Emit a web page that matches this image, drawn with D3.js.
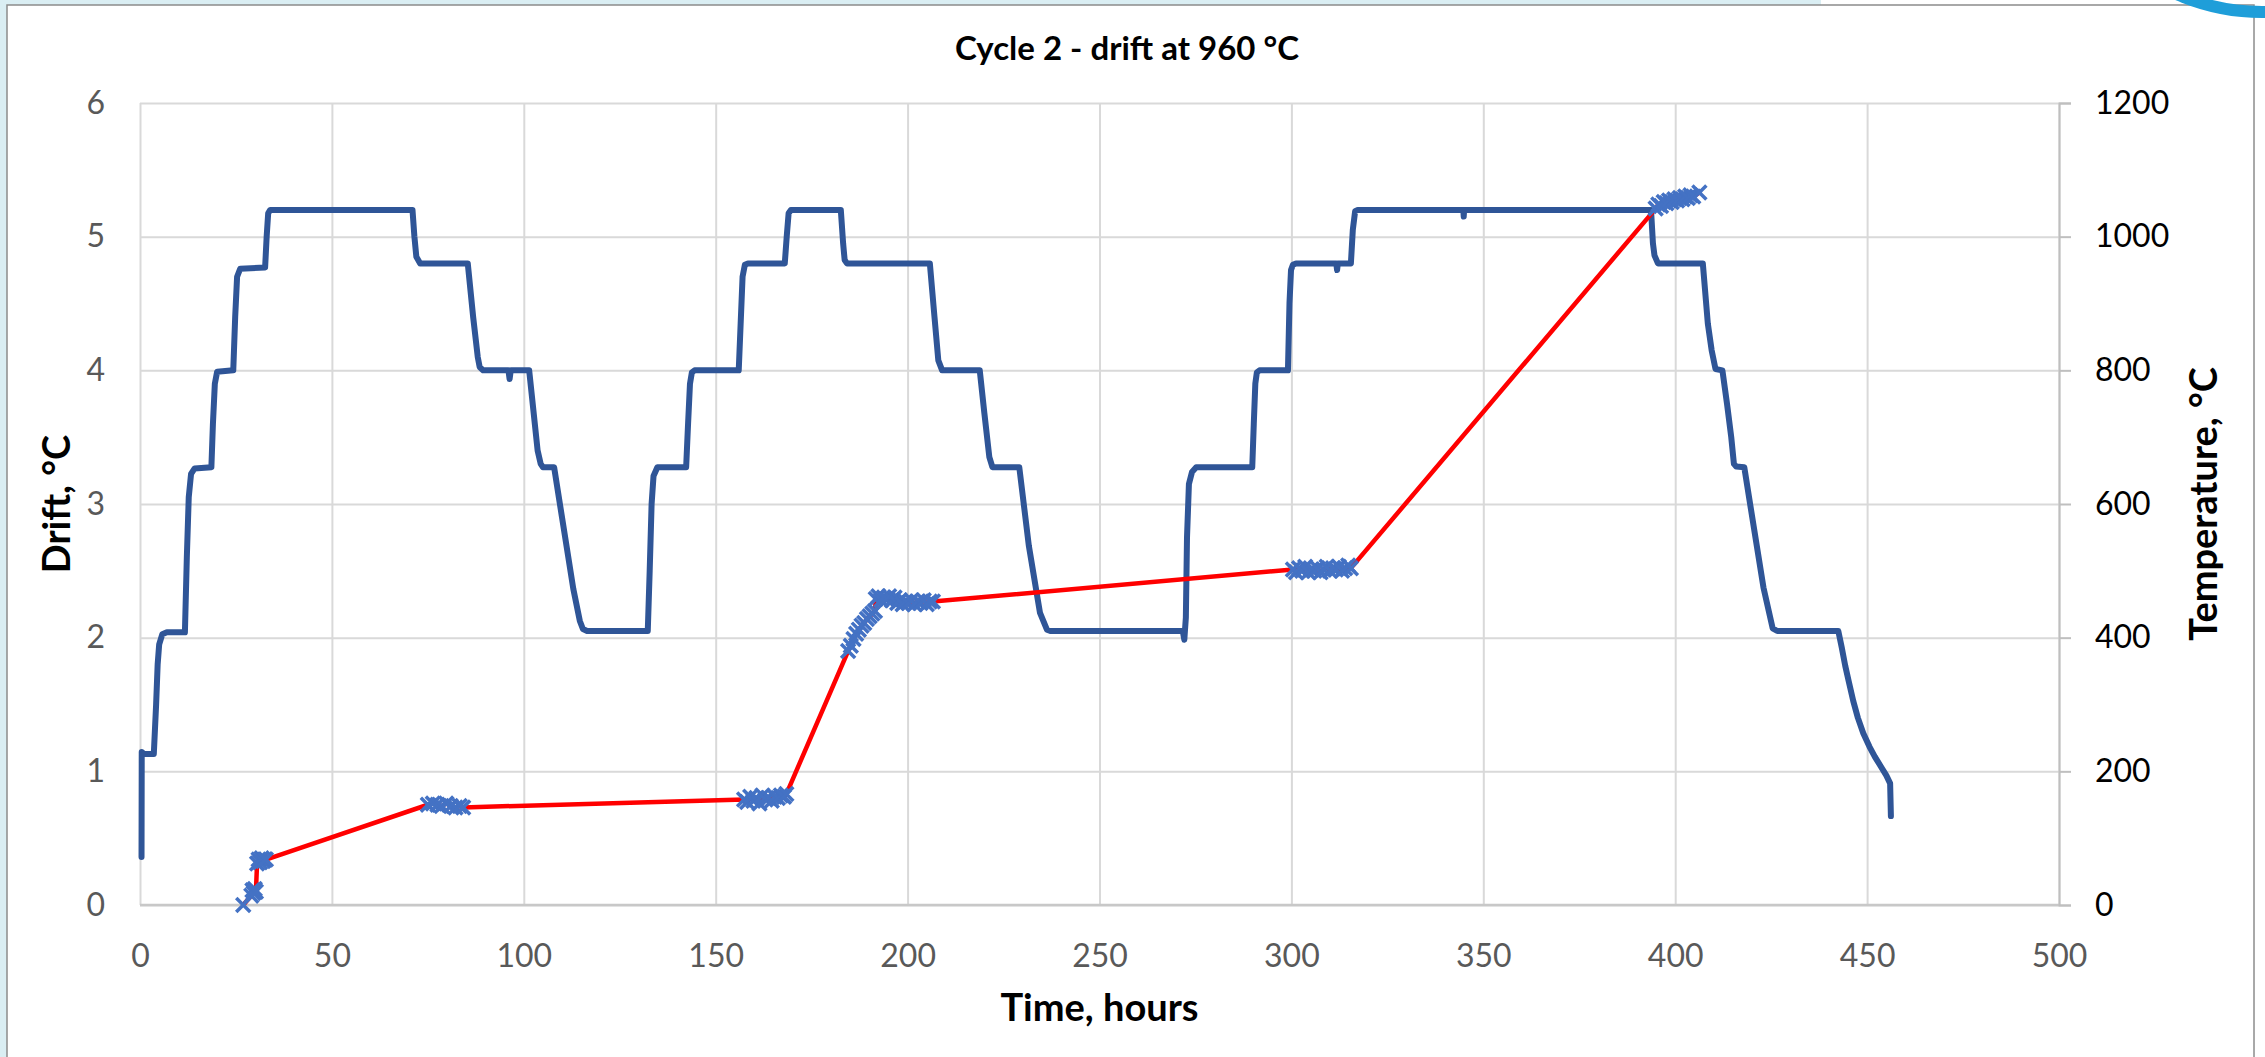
<!DOCTYPE html>
<html>
<head>
<meta charset="utf-8">
<script src="https://cdn.jsdelivr.net/npm/d3@7"></script>
<style>
  body { margin: 0; background: #fff; }
  svg { display: block; font-family: Lato, "Open Sans", sans-serif; }
</style>
</head>
<body>
<svg id="svg" width="2265" height="1057"></svg>
<script>
// ---- data ----
var chartTitle = "Cycle 2 - drift at 960 °C";

var xTicks = [0, 50, 100, 150, 200, 250, 300, 350, 400, 450, 500];
var driftTicks = [0, 1, 2, 3, 4, 5, 6];
var tempTicks = [0, 200, 400, 600, 800, 1000, 1200];

// furnace temperature, [hours, °C]
var tempProfile = [
  [0.4, 72], [0.45, 229], [1.0, 226], [3.6, 226], [4.2, 300], [4.6, 360], [5.0, 390], [5.8, 405], [7.0, 408], [11.7, 408],
  [12.2, 520], [12.7, 610], [13.3, 645], [14.2, 653], [18.6, 655],
  [19.0, 720], [19.5, 780], [20.1, 798], [24.3, 800],
  [24.8, 880], [25.3, 940], [26.1, 952], [32.6, 954],
  [33.0, 1000], [33.4, 1035], [33.9, 1040], [71.0, 1040],
  [71.5, 1000], [72.0, 970], [73.0, 960], [85.4, 960],
  [86.8, 880], [88.0, 820], [88.5, 805], [89.4, 800], [96.0, 800], [96.3, 787], [96.6, 800], [101.4, 800],
  [102.5, 740], [103.6, 680], [104.4, 660], [105.0, 655], [107.9, 655],
  [109.9, 582], [112.9, 473], [114.6, 425], [115.4, 413], [116.5, 410], [132.3, 410],
  [132.8, 500], [133.3, 600], [133.8, 642], [134.8, 655], [142.3, 655],
  [142.8, 720], [143.3, 780], [143.8, 797], [144.5, 800], [156.0, 800],
  [156.5, 870], [157.0, 940], [157.6, 958], [158.4, 960], [168.0, 960],
  [168.5, 1000], [169.0, 1035], [169.6, 1040], [182.6, 1040],
  [183.2, 990], [183.6, 965], [184.2, 960], [205.8, 960],
  [207.0, 880], [208.0, 815], [209.0, 800], [218.8, 800],
  [220.0, 736], [221.3, 670], [222.1, 655], [229.1, 655],
  [231.6, 537], [234.5, 437], [236.3, 412], [237.2, 410], [271.7, 410], [272.1, 397], [272.5, 430],
  [272.8, 550], [273.3, 630], [274.1, 648], [275.2, 655], [289.8, 655],
  [290.2, 720], [290.6, 780], [291.0, 797], [291.7, 800], [299.1, 800],
  [299.5, 900], [299.9, 950], [300.4, 958], [301.2, 960], [311.7, 960], [311.9, 950], [312.1, 960], [315.5, 960],
  [316.0, 1010], [316.6, 1038], [317.3, 1040], [344.8, 1040], [344.9, 1030], [345.0, 1040], [393.7, 1040],
  [394.2, 990], [394.6, 972], [395.5, 960], [407.2, 960],
  [408.5, 870], [409.5, 830], [410.5, 802], [412.3, 800],
  [413.5, 750], [414.6, 700], [415.3, 660], [415.9, 656], [418.0, 655],
  [420.6, 561], [423.0, 475], [425.4, 414], [426.6, 410], [442.5, 410],
  [443.4, 385], [444.3, 358], [445.2, 335], [446.4, 305], [447.6, 280], [449.0, 257], [450.6, 237],
  [452.0, 222], [453.5, 208], [455.0, 194], [456.0, 182], [456.2, 133]
];

// thermocouple drift, hours and °C
var driftHours = [
  26.9, 29.0, 29.3, 29.6, 29.9, 30.2,
  30.5, 30.9, 31.3, 31.7, 32.1, 32.5, 32.8,
  75.0, 76.3, 77.5, 78.6, 79.8, 81.0, 82.2, 83.3, 84.2,
  157.4, 158.2, 159.0, 159.8, 160.6, 161.4, 162.2, 163.0, 163.8, 164.6, 165.4, 166.2, 167.0, 167.8, 168.4,
  184.5, 185.2, 185.9, 186.6, 187.3, 188.0, 188.7, 189.4, 190.1, 190.8, 191.5,
  191.7, 192.4, 193.1, 193.8, 194.5, 195.2, 195.9, 196.6, 197.3, 198.0, 198.7, 199.4, 200.2, 201.0, 201.8, 202.6, 203.4, 204.2, 205.0, 205.8, 206.6,
  300.4, 301.2, 302.0, 302.8, 303.6, 304.4, 305.2, 306.0, 306.8, 307.6, 308.4, 309.2, 310.0, 310.8, 311.6, 312.4, 313.2, 314.0, 314.8, 315.5,
  394.9, 395.6, 396.3, 397.0, 397.7, 398.4, 399.1, 399.8, 400.5, 401.2, 401.9, 402.6, 403.3, 404.0, 404.7, 406.3
];
var driftValues = [
  0.00, 0.07, 0.11, 0.09, 0.12, 0.10,
  0.31, 0.34, 0.32, 0.35, 0.33, 0.34, 0.34,
  0.75, 0.76, 0.75, 0.74, 0.76, 0.74, 0.73, 0.74, 0.73,
  0.79, 0.77, 0.81, 0.78, 0.80, 0.76, 0.82, 0.79, 0.80, 0.78, 0.81, 0.80, 0.82, 0.81, 0.83,
  1.90, 1.94, 1.99, 2.03, 2.06, 2.09, 2.11, 2.14, 2.16, 2.18, 2.20,
  2.29, 2.31, 2.28, 2.30, 2.29, 2.31, 2.28, 2.30, 2.26, 2.28, 2.25, 2.27, 2.26, 2.28, 2.25, 2.27, 2.26, 2.28, 2.25, 2.27, 2.27,
  2.51, 2.49, 2.52, 2.50, 2.53, 2.49, 2.51, 2.50, 2.52, 2.49, 2.51, 2.53, 2.50, 2.52, 2.51, 2.53, 2.50, 2.52, 2.54, 2.52,
  5.21, 5.24, 5.23, 5.26, 5.25, 5.27, 5.26, 5.28, 5.27, 5.29, 5.28, 5.30, 5.29, 5.31, 5.30, 5.33
];

// ---- layout ----
var svg = d3.select("#svg"),
    width = +svg.attr("width"),
    height = +svg.attr("height");

var plot = {left: 140, right: 2059, top: 103, bottom: 905};

var x = d3.scaleLinear().domain([0, 500]).range([plot.left, plot.right]);
var yDrift = d3.scaleLinear().domain([0, 6]).range([plot.bottom, plot.top]);
var yTemp = d3.scaleLinear().domain([0, 1200]).range([plot.bottom, plot.top]);

var plain = d3.format("d");

// slide frame
svg.append("rect").attr("width", width).attr("height", height).attr("fill", "#fff");
svg.append("rect").attr("width", 1821).attr("height", height).attr("fill", "#DAEEF3");
svg.append("rect")
    .attr("x", 7).attr("y", 5)
    .attr("width", 2247).attr("height", height)
    .attr("fill", "#fff")
    .attr("stroke", "#8C8C8C")
    .attr("stroke-width", 1.5);
svg.append("circle")
    .attr("cx", 2262).attr("cy", -200).attr("r", 212)
    .attr("fill", "none")
    .attr("stroke", "#1F9ED9")
    .attr("stroke-width", 12);

// gridlines
svg.append("g")
    .attr("transform", "translate(" + plot.left + ",0)")
    .call(d3.axisLeft(yDrift).tickValues(driftTicks).tickSize(-(plot.right - plot.left)).tickFormat(""))
    .call(function(g) { g.select(".domain").remove(); })
  .selectAll("line")
    .attr("stroke", "#D9D9D9")
    .attr("stroke-width", 2);

svg.append("g")
    .attr("transform", "translate(0," + plot.bottom + ")")
    .call(d3.axisBottom(x).tickValues(xTicks).tickSize(-(plot.bottom - plot.top)).tickFormat(""))
    .call(function(g) { g.select(".domain").remove(); })
  .selectAll("line")
    .attr("stroke", "#D9D9D9")
    .attr("stroke-width", 2);

svg.append("line")
    .attr("x1", plot.left).attr("x2", plot.right)
    .attr("y1", plot.bottom).attr("y2", plot.bottom)
    .attr("stroke", "#C8C8C8")
    .attr("stroke-width", 2.5);

// left axis labels
svg.append("g")
    .attr("transform", "translate(" + plot.left + ",0)")
    .call(d3.axisLeft(yDrift).tickValues(driftTicks).tickFormat(plain).tickSize(0).tickPadding(35))
    .call(function(g) { g.select(".domain").remove(); })
  .selectAll("text")
    .attr("fill", "#595959")
    .attr("font-family", "Lato, sans-serif")
    .attr("font-size", 32);

// bottom axis labels
svg.append("g")
    .attr("transform", "translate(0," + plot.bottom + ")")
    .call(d3.axisBottom(x).tickValues(xTicks).tickFormat(plain).tickSize(0))
    .call(function(g) { g.select(".domain").remove(); })
  .selectAll("text")
    .attr("dy", null)
    .attr("y", 62)
    .attr("fill", "#595959")
    .attr("font-family", "Lato, sans-serif")
    .attr("font-size", 32);

// right axis
var rightAxis = svg.append("g")
    .attr("transform", "translate(" + plot.right + ",0)")
    .call(d3.axisRight(yTemp).tickValues(tempTicks).tickFormat(plain).tickSize(12).tickPadding(24));
rightAxis.select(".domain").attr("stroke", "#BFBFBF").attr("stroke-width", 2);
rightAxis.selectAll("line").attr("stroke", "#BFBFBF").attr("stroke-width", 2);
rightAxis.selectAll("text")
    .attr("fill", "#000")
    .attr("font-family", "Lato, sans-serif")
    .attr("font-size", 32);

// series
var tempLine = d3.line()
    .x(function(d) { return x(d[0]); })
    .y(function(d) { return yTemp(d[1]); });

svg.append("path")
    .datum(tempProfile)
    .attr("fill", "none")
    .attr("stroke", "#2F5597")
    .attr("stroke-width", 6)
    .attr("stroke-linejoin", "round")
    .attr("stroke-linecap", "round")
    .attr("d", tempLine);

var drift = driftHours.map(function(h, i) { return [h, driftValues[i]]; });

var driftLine = d3.line()
    .x(function(d) { return x(d[0]); })
    .y(function(d) { return yDrift(d[1]); });

svg.append("path")
    .datum(drift)
    .attr("fill", "none")
    .attr("stroke", "#FF0000")
    .attr("stroke-width", 4.5)
    .attr("stroke-linejoin", "round")
    .attr("d", driftLine);

svg.append("g")
  .selectAll("path")
  .data(drift)
  .enter().append("path")
    .attr("transform", function(d) { return "translate(" + x(d[0]) + "," + yDrift(d[1]) + ")"; })
    .attr("d", d3.symbol().type(d3.symbolX).size(130))
    .attr("fill", "none")
    .attr("stroke", "#4472C4")
    .attr("stroke-width", 3.5);

// titles
svg.append("text")
    .attr("x", 1127)
    .attr("y", 60)
    .attr("text-anchor", "middle")
    .attr("font-weight", "bold")
    .attr("font-size", 33)
    .attr("fill", "#000")
    .text(chartTitle);

svg.append("text")
    .attr("x", (plot.left + plot.right) / 2)
    .attr("y", 1021)
    .attr("text-anchor", "middle")
    .attr("font-weight", "bold")
    .attr("font-size", 38)
    .attr("fill", "#000")
    .text("Time, hours");

svg.append("text")
    .attr("transform", "translate(70," + (plot.top + plot.bottom) / 2 + ")rotate(-90)")
    .attr("text-anchor", "middle")
    .attr("font-weight", "bold")
    .attr("font-size", 38)
    .attr("fill", "#000")
    .text("Drift, °C");

svg.append("text")
    .attr("transform", "translate(2217," + (plot.top + plot.bottom) / 2 + ")rotate(-90)")
    .attr("text-anchor", "middle")
    .attr("font-weight", "bold")
    .attr("font-size", 38)
    .attr("fill", "#000")
    .text("Temperature, °C");
</script>
</body>
</html>
